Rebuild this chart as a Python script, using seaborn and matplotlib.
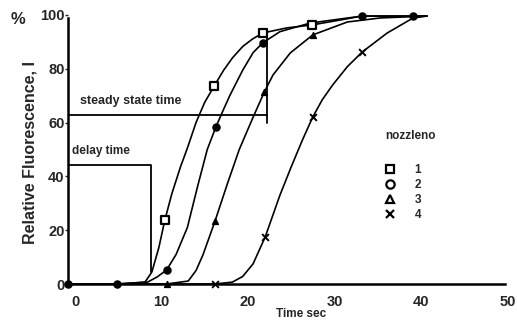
import matplotlib
matplotlib.use("Agg")
import matplotlib.pyplot as plt
import matplotlib.transforms as mtransforms
from matplotlib.lines import Line2D
import pandas as pd
import seaborn as sns

# traced curves (time in sec, relative fluorescence in %)
n1_time = [0, 5.7, 8.9, 9.7, 10.5, 11.2, 12.0, 13.0, 13.8, 14.8, 15.8, 16.9, 18.0, 19.0, 20.2, 21.3, 22.5, 25.3, 28.2, 31.4, 34.0, 39.9, 41.5]
n1_fluo = [0, 0, 0.7, 4.5, 13.5, 23.8, 33.5, 43.5, 50.5, 60.0, 67.5, 73.6, 79.5, 84.0, 88.3, 91.0, 93.3, 95.2, 96.3, 98.1, 99.6, 99.6, 99.6]
n2_time = [0, 5.7, 9.2, 10.3, 11.4, 12.5, 13.8, 15.0, 16.1, 17.1, 18.0, 18.7, 20.2, 21.4, 22.5, 24.5, 28.0, 34.0, 39.9, 41.5]
n2_fluo = [0, 0, 0.7, 2.6, 5.2, 11.0, 21.0, 36.5, 50.0, 58.4, 65.0, 70.0, 79.5, 86.0, 89.6, 93.8, 97.0, 99.6, 99.6, 99.6]
n3_time = [0, 11.4, 13.9, 14.8, 15.6, 17.0, 18.4, 19.8, 21.4, 22.7, 23.7, 25.7, 28.3, 32.3, 36.1, 41.5]
n3_fluo = [0, 0, 1.1, 5.0, 10.8, 23.4, 37.0, 50.0, 62.0, 71.4, 77.7, 85.9, 92.6, 97.4, 98.9, 99.6]
n4_time = [0, 17.0, 19.0, 20.2, 21.4, 22.8, 24.5, 25.8, 27.1, 28.3, 29.4, 30.6, 32.3, 34.0, 36.9, 39.9, 41.5]
n4_fluo = [0, 0, 0.7, 2.8, 7.5, 17.5, 33.0, 43.5, 53.5, 62.1, 68.5, 74.0, 80.8, 86.2, 93.3, 98.9, 99.6]

# measured points (markers)
m1_time = [11.2, 16.9, 22.5, 28.2]
m1_fluo = [23.8, 73.6, 93.3, 96.3]
m2_time = [0, 5.7, 11.4, 17.1, 22.5, 34.0, 39.9]
m2_fluo = [0, 0, 5.2, 58.4, 89.6, 99.6, 99.6]
m3_time = [11.4, 17.0, 22.7, 28.3]
m3_fluo = [0, 23.4, 71.4, 92.6]
m4_time = [17.0, 22.8, 28.3, 34.0]
m4_fluo = [0, 17.5, 62.1, 86.2]

nozzles = ["1", "2", "3", "4"]

# annotation guides
delay_time = 9.6
delay_box_top = 44.2
delay_box_bottom = 4.5
steady_time = 23.0
steady_level = 62.8
steady_top = 93.7
steady_bottom = 59.9

sns.set_style("ticks")
plt.rcParams["font.family"] = ["Liberation Sans", "DejaVu Sans"]
plt.rcParams["font.weight"] = "bold"

fig = plt.figure(figsize=(5.17, 3.22), dpi=100)
ax = fig.add_axes([68 / 517, 1 - 284 / 322, 436.8 / 517, 271.7 / 322])

curves = [(n1_time, n1_fluo), (n2_time, n2_fluo), (n3_time, n3_fluo), (n4_time, n4_fluo)]
for t, f in curves:
    df = pd.DataFrame({"time": t, "fluo": f})
    sns.lineplot(data=df, x="time", y="fluo", ax=ax, color="black", lw=1.2,
                 sort=False, estimator=None, clip_on=False)

sty = [
    dict(marker="s", s=28, facecolor="white", edgecolor="black", linewidth=1.6),
    dict(marker="o", s=26, facecolor="black", edgecolor="black", linewidth=1),
    dict(marker="^", s=18, facecolor="black", edgecolor="black", linewidth=1),
    dict(marker="x", s=24, color="black", linewidth=1.4),
]
markers = [(m1_time, m1_fluo), (m2_time, m2_fluo), (m3_time, m3_fluo), (m4_time, m4_fluo)]
for (t, f), st in zip(markers, sty):
    sns.scatterplot(x=t, y=f, ax=ax, clip_on=False, zorder=5, **st)

# delay time box
ax.plot([0, delay_time, delay_time], [delay_box_top, delay_box_top, delay_box_bottom],
        color="black", lw=1.3)
# steady state time box
ax.plot([0, steady_time], [steady_level, steady_level], color="black", lw=1.3)
ax.plot([steady_time, steady_time], [steady_bottom, steady_top], color="black", lw=1.3)

ax.text(1.4, 68.0, "steady state time", fontsize=9, fontweight="bold", va="center")
ax.text(0.5, 49.5, "delay time", fontsize=8.5, fontweight="bold", va="center")

ax.set_xlim(0, 50.5)
ax.set_ylim(0, 101)
ax.set_xticks([0, 10, 20, 30, 40, 50])
ax.set_yticks([0, 20, 40, 60, 80, 100])
ax.set_xlabel("")
ax.set_ylabel("")
ax.tick_params(axis="x", length=0, pad=8, labelsize=10.5)
ax.tick_params(axis="y", length=2, width=1, pad=0.5, labelsize=10.5)
for lab in ax.get_xticklabels():
    lab.set_transform(lab.get_transform() + mtransforms.ScaledTranslation(7 / 100, 0, fig.dpi_scale_trans))
sns.despine(ax=ax)
ax.spines["left"].set_bounds(0, 99)
for sp in ["left", "bottom"]:
    ax.spines[sp].set_linewidth(1.8)
    ax.spines[sp].set_color("black")

fig.text(30 / 517, 1 - 152 / 322, "Relative Fluorescence, I", rotation=90,
         fontsize=11.5, fontweight="bold", ha="center", va="center")
fig.text(18 / 517, 1 - 20 / 322, "%", fontsize=12, fontweight="bold", ha="center", va="center")
fig.text(301 / 517, 1 - 314 / 322, "Time sec", fontsize=8.5, fontweight="bold",
         ha="center", va="center")

fig.text(385 / 517, 1 - 136 / 322, "nozzleno", fontsize=8.5, fontweight="bold", va="center")
handles = [
    Line2D([], [], ls="none", marker="s", ms=6, mfc="white", mec="black", mew=1.6),
    Line2D([], [], ls="none", marker="o", ms=6, mfc="white", mec="black", mew=1.6),
    Line2D([], [], ls="none", marker="^", ms=6, mfc="white", mec="black", mew=1.6),
    Line2D([], [], ls="none", marker="x", ms=6, color="black", mew=1.6),
]
fig.legend(handles, nozzles, loc="upper left", bbox_to_anchor=(384 / 517, 1 - 164 / 322),
           frameon=False, borderpad=0, borderaxespad=0, handlelength=1, handletextpad=1.6,
           labelspacing=0.25, prop={"weight": "bold", "size": 8.5})

fig.savefig("out.png", dpi=100)
